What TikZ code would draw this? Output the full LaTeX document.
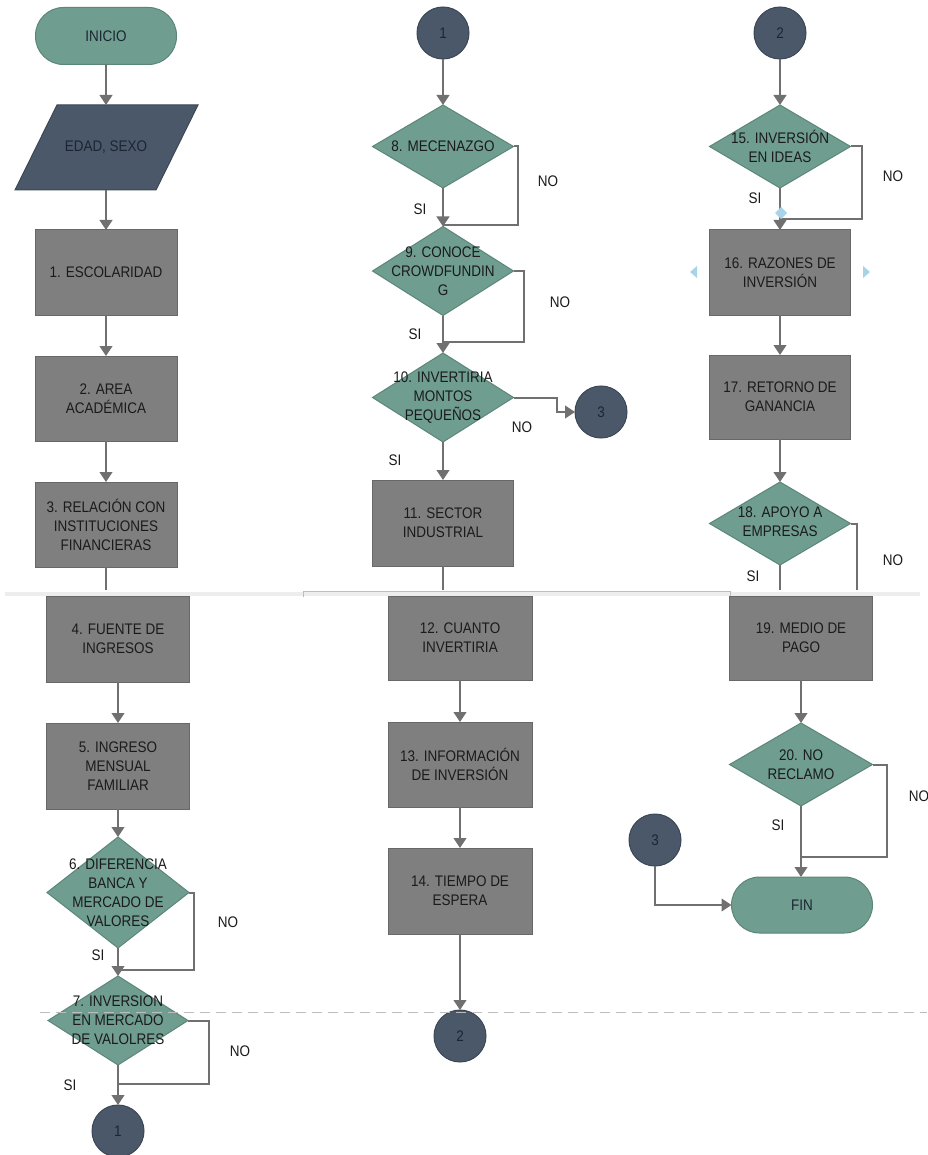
\documentclass[tikz,border=0pt]{standalone}
\usepackage{fontspec}
\setmainfont{Liberation Sans}[FakeStretch=0.88]
\usetikzlibrary{shapes.geometric,arrows.meta,calc}

\definecolor{flowteal}{HTML}{6F9D8F}
\definecolor{flowtealdark}{HTML}{5C8679}
\definecolor{flowslate}{HTML}{4A5869}
\definecolor{flowslatedark}{HTML}{3B4756}
\definecolor{flowgray}{HTML}{7F7F7F}
\definecolor{flowgraydark}{HTML}{686868}
\definecolor{flowline}{HTML}{707070}
\definecolor{flowtext}{HTML}{1B1B1B}
\definecolor{navytext}{HTML}{1C2533}
\definecolor{seamgray}{HTML}{EDEDED}
\definecolor{bracketgray}{HTML}{BDBDBD}
\definecolor{dashgray}{HTML}{BDBDBD}
\definecolor{handleblue}{HTML}{A9D3E8}

\tikzset{
  base/.style={inner sep=0pt, outer sep=0pt, text=flowtext, align=center},
  proc/.style={base, rectangle, fill=flowgray, draw=flowgraydark, line width=0.75pt,
    minimum width=106.5pt, minimum height=63.75pt},
  dec/.style={base, diamond, fill=flowteal, draw=flowtealdark, line width=0.75pt},
  term/.style={base, rectangle, rounded corners=21pt, fill=flowteal, draw=flowtealdark,
    line width=0.75pt, minimum width=105.75pt, minimum height=42.75pt, text=navytext},
  link/.style={base, circle, fill=flowslate, draw=flowslatedark, line width=0.75pt,
    minimum size=39pt, text=navytext},
  dtext/.style={base},
  lbl/.style={base},
  arr/.style={draw=flowline, line width=1.5pt, -{Triangle[length=7.5pt,width=9.5pt]}},
  plain/.style={draw=flowline, line width=1.5pt},
}

\begin{document}
\begin{tikzpicture}[x=0.75pt, y=-0.75pt, font=\fontsize{11.5}{14.25}\selectfont]
\useasboundingbox (0,0) rectangle (927,1155);
\fill[white] (0,0) rectangle (927,1155);

% seam between the upper and lower halves
\fill[seamgray] (5,591.5) rectangle (920,595.5);
\draw[bracketgray, line width=0.6pt] (303,597) -- (303,591) -- (730,591) -- (730,597);

% ---------------- column A ----------------
\node[term] (ini) at (106,36) {INICIO};
\fill[flowslate, draw=flowslatedark, line width=0.75pt]
  (57,105) -- (198,105) -- (156,190) -- (15,190) -- cycle;
\node[base, minimum width=100pt, minimum height=63.75pt, text=navytext] (io) at (106,147.5) {EDAD, SEXO};
\node[proc] (b1) at (106,272.5) {1. ESCOLARIDAD};
\node[proc] (b2) at (106,398.5) {2. AREA\\ACADÉMICA};
\node[proc] (b3) at (106,524.5) {3. RELACIÓN CON\\INSTITUCIONES\\FINANCIERAS};
\coordinate (sA) at (106,590);

\node[proc, minimum width=107.25pt, minimum height=64.5pt] (b4) at (118,639) {4. FUENTE DE\\INGRESOS};
\node[proc, minimum width=107.25pt, minimum height=64.5pt] (b5) at (118,766) {5. INGRESO\\MENSUAL\\FAMILIAR};
\node[dec, minimum width=106.5pt, minimum height=83.25pt] (d6) at (118,892.5) {};
\node[dtext] (d6t) at (d6) {6. DIFERENCIA\\BANCA Y\\MERCADO DE\\VALORES};
\node[dec, minimum width=105pt, minimum height=66.75pt] (d7) at (118,1020.5) {};
\node[dtext] (d7t) at (d7) {7. INVERSION\\EN MERCADO\\DE VALOLRES};
\node[link] (c1a) at (118,1131) {1};

\draw[arr] (ini) -- (io);
\draw[arr] (io) -- (b1);
\draw[arr] (b1) -- (b2);
\draw[arr] (b2) -- (b3);
\draw[plain] (b3) -- (sA);
\draw[arr] (b4) -- (b5);
\draw[arr] (b5) -- (d6);
\draw[arr] (d6.south) -- (d7.north);
\draw[plain] (d6.east) -- ++(5,0) |- ($(d7.north)+(0,-6)$);
\draw[arr] (d7.south) -- (c1a.north);
\draw[plain] (d7.east) -- ++(21,0) |- ($(c1a.north)+(0,-21)$);
\node[lbl] (d6si) at (98,955) {SI};
\node[lbl] (d6no) at (228,922) {NO};
\node[lbl] (d7si) at (70,1085) {SI};
\node[lbl] (d7no) at (240,1051) {NO};

% ---------------- column B ----------------
\node[link] (c1b) at (443,33) {1};
\node[dec, minimum width=105.75pt, minimum height=62.25pt] (d8) at (443,146.5) {};
\node[dtext] (d8t) at (d8) {8. MECENAZGO};
\node[dec, minimum width=105.75pt, minimum height=66.75pt] (d9) at (443,271) {};
\node[dtext] (d9t) at (d9) {9. CONOCE\\CROWDFUNDIN\\G};
\node[dec, minimum width=105.75pt, minimum height=66.75pt] (d10) at (443,397.5) {};
\node[dtext] (d10t) at (d10) {10. INVERTIRIA\\MONTOS\\PEQUEÑOS};
\node[link] (c3a) at (601,412) {3};
\node[proc, minimum width=105.75pt, minimum height=64.5pt] (b11) at (443,523) {11. SECTOR\\INDUSTRIAL};
\coordinate (sB) at (443,590);

\node[proc, minimum width=108pt, minimum height=63pt] (b12) at (460,638) {12. CUANTO\\INVERTIRIA};
\node[proc, minimum width=108pt, minimum height=63.75pt] (b13) at (460,764.5) {13. INFORMACIÓN\\DE INVERSIÓN};
\node[proc, minimum width=108pt, minimum height=64.5pt] (b14) at (460,891) {14. TIEMPO DE\\ESPERA};
\node[link] (c2b) at (460,1036) {2};

\draw[arr] (c1b) -- (d8);
\draw[arr] (d8.south) -- (d9.north);
\draw[plain] (d8.east) -- ++(4,0) |- ($(d9.north)+(0,-1)$);
\draw[arr] (d9.south) -- (d10.north);
\draw[plain] (d9.east) -- ++(10,0) |- ($(d10.north)+(0,-11)$);
\draw[arr] (d10.south) -- (b11.north);
\draw[arr] (d10.east) -- ++(43,0) |- (c3a.west);
\draw[plain] (b11) -- (sB);
\draw[arr] (b12) -- (b13);
\draw[arr] (b13) -- (b14);
\draw[arr] (b14) -- (c2b);
\node[lbl] (d8si) at (420,209) {SI};
\node[lbl] (d8no) at (548,181) {NO};
\node[lbl] (d9si) at (415,334) {SI};
\node[lbl] (d9no) at (560,302) {NO};
\node[lbl] (d10si) at (395,460) {SI};
\node[lbl] (d10no) at (522,427) {NO};

% ---------------- column C ----------------
\node[link] (c2a) at (780,33) {2};
\node[dec, minimum width=105.75pt, minimum height=62.25pt] (d15) at (780,146.5) {};
\node[dtext] (d15t) at (d15) {15. INVERSIÓN\\EN IDEAS};
\node[proc, minimum width=105.75pt] (b16) at (780,272.5) {16. RAZONES DE\\INVERSIÓN};
\node[proc, minimum width=105.75pt, minimum height=63pt] (b17) at (780,397) {17. RETORNO DE\\GANANCIA};
\node[dec, minimum width=105.75pt, minimum height=62.25pt] (d18) at (780,523.5) {};
\node[dtext] (d18t) at ($(d18)+(0,-2)$) {18. APOYO A\\EMPRESAS};
\coordinate (sC1) at (780,590);
\coordinate (sC2) at (857,590);

\node[proc, minimum width=107.25pt, minimum height=63pt] (b19) at (801,638) {19. MEDIO DE\\PAGO};
\node[dec, minimum width=107.25pt, minimum height=62.25pt] (d20) at (801,764.5) {};
\node[dtext] (d20t) at (d20) {20. NO\\RECLAMO};
\node[term, minimum height=42pt] (fin) at (802,905) {FIN};
\node[link] (c3b) at (655,840) {3};

\draw[arr] (c2a) -- (d15);
\draw[arr] (d15.south) -- (b16.north);
\draw[plain] (d15.east) -- ++(11,0) |- ($(b16.north)+(0,-11)$);
\draw[arr] (b16) -- (b17);
\draw[arr] (b17) -- (d18);
\draw[plain] (d18.south) -- (sC1);
\draw[plain] (d18.east) -| (sC2);
\draw[arr] (b19) -- (d20);
\draw[arr] (d20.south) -- (d20.south |- fin.north);
\draw[plain] (d20.east) -- ++(14,0) |- ($(d20.south |- fin.north)+(0,-20)$);
\draw[arr] (c3b.south) |- (fin.west);
\node[lbl] (d15si) at (755,198) {SI};
\node[lbl] (d15no) at (893,176) {NO};
\node[lbl] (d18si) at (753,576) {SI};
\node[lbl] (d18no) at (893,560) {NO};
\node[lbl] (d20si) at (778,825) {SI};
\node[lbl] (d20no) at (919,796) {NO};

% selection handles around box 16
\fill[handleblue] (697,266) -- (697,278) -- (690,272) -- cycle;
\fill[handleblue] (863,266) -- (863,278) -- (870,272) -- cycle;
\fill[handleblue] (781,207) -- (787,213) -- (781,219) -- (775,213) -- cycle;

% page break guide
\draw[dashgray, line width=0.75pt, dash pattern=on 7.5pt off 4.5pt] (40,1012) -- (927,1012);
\end{tikzpicture}
\end{document}
